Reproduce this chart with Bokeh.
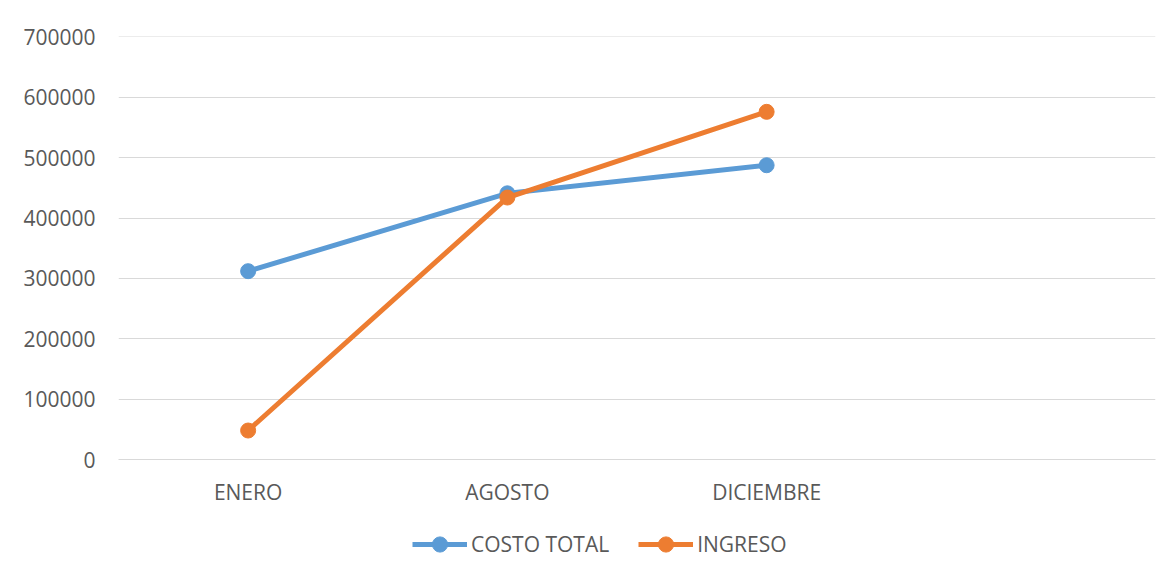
from bokeh.plotting import figure
from bokeh.layouts import column
from bokeh.models import FactorRange, Range1d, FixedTicker, NumeralTickFormatter, Legend
from bokeh.embed import file_html
from bokeh.resources import INLINE

categories = ["ENERO", "AGOSTO", "DICIEMBRE"]
axis_categories = ["ENERO", "AGOSTO", "DICIEMBRE", " "]
costo_total = [312000, 441000, 487500]
ingreso = [48000, 434000, 576000]
y_ticks = [0, 100000, 200000, 300000, 400000, 500000, 600000, 700000]
series_names = ["COSTO TOTAL", "INGRESO"]

BLUE = "#5B9BD5"
ORANGE = "#ED7D31"
TXT = "#595959"
GRID = "#D9D9D9"
FONT = "Open Sans"

p = figure(width=1166, height=510, x_range=FactorRange(factors=axis_categories),
           y_range=Range1d(0, 700800), output_backend="svg", toolbar_location=None,
           min_border_left=118, min_border_right=11, min_border_top=36, min_border_bottom=51)
p.outline_line_color = None
p.background_fill_color = "white"
p.border_fill_color = "white"

p.xgrid.grid_line_color = None
p.ygrid.grid_line_color = GRID
p.ygrid.grid_line_width = 1

p.yaxis.ticker = FixedTicker(ticks=y_ticks)
p.yaxis.formatter = NumeralTickFormatter(format="0")
p.yaxis.axis_line_color = None
p.yaxis.major_tick_line_color = None
p.yaxis.minor_tick_line_color = None
p.yaxis.major_label_standoff = 17
p.xaxis.axis_line_color = GRID
p.xaxis.axis_line_width = 1
p.xaxis.major_tick_line_color = None
p.xaxis.minor_tick_line_color = None
p.xaxis.major_label_standoff = 12
for ax in (p.xaxis, p.yaxis):
    ax.major_label_text_font = FONT
    ax.major_label_text_font_size = "21px"
    ax.major_label_text_color = TXT

p.line(categories, costo_total, line_color=BLUE, line_width=5)
p.scatter(categories, costo_total, size=15, fill_color=BLUE, line_color=BLUE)
p.line(categories, ingreso, line_color=ORANGE, line_width=5)
p.scatter(categories, ingreso, size=15, fill_color=ORANGE, line_color=ORANGE)

# legend strip below the chart (same series, drawn off-range so only the legend shows)
lg = figure(width=1166, height=68, x_range=FactorRange(factors=axis_categories),
            y_range=Range1d(-2, -1), x_axis_location=None, y_axis_location=None,
            output_backend="svg", toolbar_location=None,
            min_border_left=0, min_border_right=0, min_border_top=0, min_border_bottom=0)
lg.outline_line_color = None
lg.grid.visible = False
lg.border_fill_color = "white"
items = []
for name, vals, color in zip(series_names, [costo_total, ingreso], [BLUE, ORANGE]):
    rl = lg.line(categories, vals, line_color=color, line_width=5)
    rs = lg.scatter(categories, vals, size=15, fill_color=color, line_color=color)
    items.append((name, [rl, rs]))
legend = Legend(items=items, orientation="horizontal", location=(294, 15),
                label_text_font=FONT, label_text_font_size="21px", label_text_color=TXT,
                glyph_width=55, glyph_height=38, label_standoff=4, spacing=29,
                border_line_color=None, background_fill_alpha=0, padding=4, margin=0)
lg.add_layout(legend, "center")

layout = column(p, lg, spacing=0)
open("out.html", "w").write(file_html(layout, INLINE))
